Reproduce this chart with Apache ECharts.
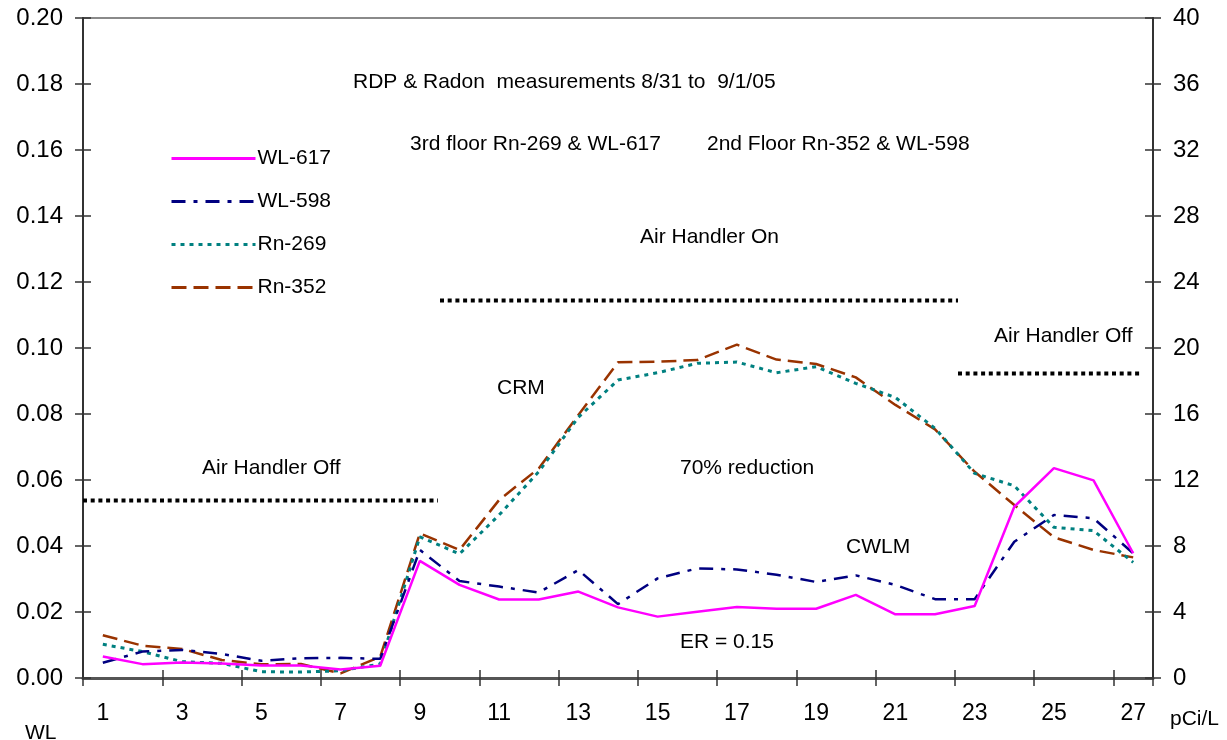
<!DOCTYPE html>
<html>
<head>
<meta charset="utf-8">
<script src="https://cdn.jsdelivr.net/npm/echarts@6/dist/echarts.min.js"></script>
<style>
html,body{margin:0;padding:0;background:#fff;}
#chart{width:1227px;height:740px;}
</style>
</head>
<body>
<div id="chart"></div>
<script>
const categories = ['1','2','3','4','5','6','7','8','9','10','11','12','13','14','15','16','17','18','19','20','21','22','23','24','25','26','27'];
const wl617 = [0.0065,0.0042,0.0047,0.0044,0.0038,0.0038,0.0026,0.0037,0.0355,0.0282,0.0238,0.0238,0.0262,0.0214,0.0186,0.0201,0.0215,0.0210,0.0210,0.0252,0.0193,0.0193,0.0218,0.0519,0.0636,0.0599,0.0378];
const wl598 = [0.0046,0.0080,0.0085,0.0073,0.0052,0.0060,0.0061,0.0058,0.0388,0.0294,0.0277,0.0259,0.0327,0.0224,0.0302,0.0332,0.0329,0.0313,0.0291,0.0311,0.0282,0.0239,0.0239,0.0413,0.0494,0.0484,0.0378];
const rn269 = [2.04,1.60,0.99,0.89,0.38,0.36,0.44,0.85,8.56,7.52,9.88,12.5,15.8,18.06,18.5,19.07,19.15,18.5,18.87,17.86,17.0,15.13,12.4,11.65,9.13,8.93,7.01];
const rn352 = [2.59,1.96,1.76,1.09,0.83,0.85,0.28,1.29,8.77,7.76,10.79,12.7,15.94,19.13,19.17,19.27,20.2,19.3,19.03,18.22,16.55,15.07,12.5,10.48,8.53,7.76,7.31];
const seriesNames = ['WL-617','WL-598','Rn-269','Rn-352'];
const annotations = [
  ['RDP & Radon  measurements 8/31 to  9/1/05', 353, 82],
  ['3rd floor Rn-269 & WL-617', 410, 144],
  ['2nd Floor Rn-352 & WL-598', 707, 144],
  ['Air Handler On', 640, 237],
  ['Air Handler Off', 994, 336],
  ['CRM', 497, 388],
  ['Air Handler Off', 202, 468],
  ['70% reduction', 680, 468],
  ['CWLM', 846, 547],
  ['ER = 0.15', 680, 642],
  ['WL', 25, 733],
  ['pCi/L', 1170, 719]
];
const dottedLines = [
  [83, 438, 500.5],
  [440, 958, 300.5],
  [958, 1140, 373.5]
];

const FONT = 'Liberation Sans, Arial, sans-serif';
const chart = echarts.init(document.getElementById('chart'), null, {renderer:'canvas'});

const graphics = [];
dottedLines.forEach(function(l){
  graphics.push({
    type:'line', z:50,
    shape:{x1:l[0], y1:l[2], x2:l[1], y2:l[2]},
    style:{stroke:'#000', lineWidth:4, lineDash:[4,3.7]}
  });
});
annotations.forEach(function(a){
  graphics.push({
    type:'text', z:50, x:a[1], y:a[2],
    style:{text:a[0], fill:'#000', font:'21px ' + FONT, textAlign:'left', textVerticalAlign:'middle'}
  });
});

function lineSeries(name, data, yIdx, color, width, dash, z){
  return {
    name:name, type:'line', data:data, xAxisIndex:0, yAxisIndex:yIdx,
    symbol:'none', showSymbol:false, z:z, animation:false,
    lineStyle:{color:color, width:width, type:dash},
    itemStyle:{color:color}
  };
}

const option = {
  backgroundColor:'#fff',
  animation:false,
  grid:{left:83, right:74, top:18, bottom:62, show:true, borderColor:'#8a8a8a', borderWidth:2, backgroundColor:'transparent'},
  legend:{
    orient:'vertical', left:165, top:143, itemWidth:84, itemHeight:22, itemGap:22,
    data:seriesNames,
    itemStyle:{opacity:0},
    lineStyle:{width:3},
    textStyle:{fontFamily:FONT, fontSize:21, color:'#000', padding:[0,0,0,-3]},
    selectedMode:false
  },
  xAxis:[
    {type:'category', data:categories, boundaryGap:true, position:'bottom',
     axisLine:{show:true, lineStyle:{color:'#555', width:3}},
     axisTick:{show:true, interval:1, length:8, lineStyle:{color:'#333', width:1.5}},
     axisLabel:{interval:1, margin:24, fontFamily:FONT, fontSize:23, color:'#000'},
     splitLine:{show:false}},
    {type:'category', data:categories, boundaryGap:true, position:'bottom',
     axisLine:{show:false},
     axisTick:{show:true, inside:true, interval:1, length:8, lineStyle:{color:'#333', width:1.5}},
     axisLabel:{show:false}, splitLine:{show:false}}
  ],
  yAxis:[
    {type:'value', position:'left', min:0, max:0.2, interval:0.02,
     axisLine:{show:true, lineStyle:{color:'#333', width:2}},
     axisTick:{show:true, length:8, lineStyle:{color:'#333', width:1.5}},
     axisLabel:{margin:20, fontFamily:FONT, fontSize:24, color:'#000', formatter:function(v){return v.toFixed(2);}},
     splitLine:{show:false}},
    {type:'value', position:'right', min:0, max:40, interval:4,
     axisLine:{show:true, lineStyle:{color:'#333', width:2}},
     axisTick:{show:true, length:8, lineStyle:{color:'#333', width:1.5}},
     axisLabel:{margin:20, fontFamily:FONT, fontSize:24, color:'#000'},
     splitLine:{show:false}},
    {type:'value', position:'left', min:0, max:0.2, interval:0.02,
     axisLine:{show:false}, axisTick:{show:true, inside:true, length:8, lineStyle:{color:'#333', width:1.5}},
     axisLabel:{show:false}, splitLine:{show:false}},
    {type:'value', position:'right', min:0, max:40, interval:4,
     axisLine:{show:false}, axisTick:{show:true, inside:true, length:8, lineStyle:{color:'#333', width:1.5}},
     axisLabel:{show:false}, splitLine:{show:false}}
  ],
  series:[
    lineSeries(seriesNames[0], wl617, 0, '#ff00ff', 2.5, 'solid', 5),
    lineSeries(seriesNames[1], wl598, 0, '#000080', 2.5, [14,8,4,8], 4),
    lineSeries(seriesNames[2], rn269, 1, '#008080', 3, [4,5], 3),
    lineSeries(seriesNames[3], rn352, 1, '#993300', 2.5, [15,7], 2)
  ],
  graphic:{elements:graphics}
};
chart.setOption(option);
</script>
</body>
</html>
